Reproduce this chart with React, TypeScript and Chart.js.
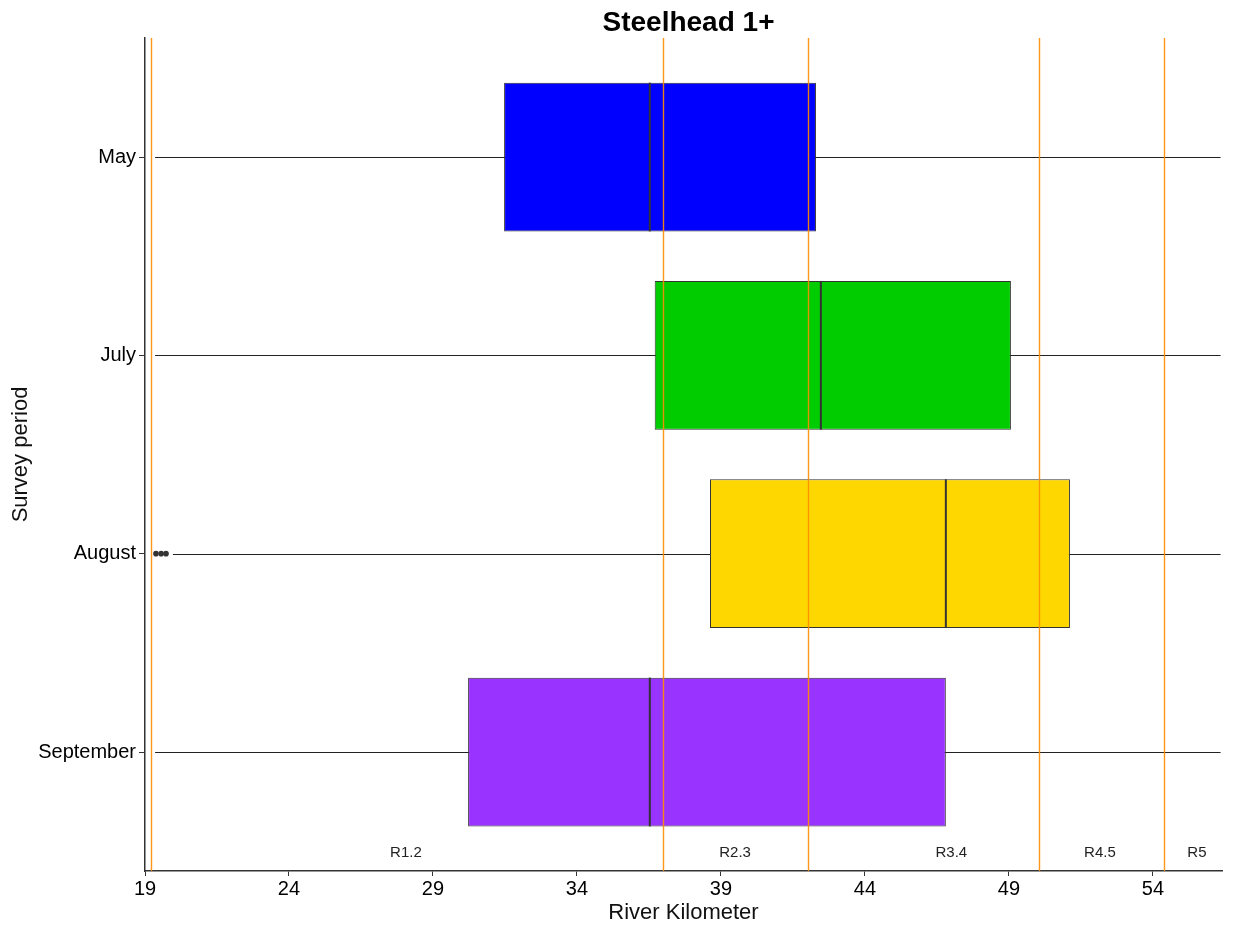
import React, { useEffect, useRef } from "react";
import { Chart, registerables } from "chart.js";

Chart.register(...registerables);

const categories = ["May", "July", "August", "September"];
const boxColors = ["#0000FF", "#00CC00", "#FFD700", "#9933FF"];
const q1 = [31.47, 36.7, 38.62, 30.22];
const q3 = [42.3, 49.07, 51.12, 46.81];
const medians = [36.53, 42.47, 46.81, 36.53];
const whiskerMin = [19.35, 19.35, 19.97, 19.35];
const whiskerMax = [56.35, 56.35, 56.35, 56.35];
const outlierCategory = [2, 2, 2];
const outlierValues = [19.38, 19.56, 19.73];
const reachBreaks = [19.2, 37.0, 42.02, 50.04, 54.38];
const reachLabels = ["R1.2", "R2.3", "R3.4", "R4.5", "R5"];
const reachLabelPos = [28.06, 39.49, 47.0, 52.16, 55.53];
const xTicks = [19, 24, 29, 34, 39, 44, 49, 54];
const titleText = "Steelhead 1+";

const FONT = "'Liberation Sans', Arial, sans-serif";

const boxPlugin = {
  id: "boxExtras",
  beforeDatasetsDraw(chart: any) {
    const { ctx, scales } = chart;
    const x = scales.x;
    const y = scales.y;
    ctx.save();
    ctx.strokeStyle = "#222222";
    ctx.lineWidth = 1.1;
    categories.forEach((_, i) => {
      const py = Math.round(y.getPixelForValue(i)) + 0.5;
      ctx.beginPath();
      ctx.moveTo(x.getPixelForValue(whiskerMin[i]), py);
      ctx.lineTo(x.getPixelForValue(whiskerMax[i]), py);
      ctx.stroke();
    });
    ctx.restore();
  },
  afterDatasetsDraw(chart: any) {
    const { ctx, scales, chartArea } = chart;
    const x = scales.x;
    const y = scales.y;
    const meta = chart.getDatasetMeta(0);
    ctx.save();
    // medians
    ctx.strokeStyle = "#333333";
    ctx.lineWidth = 2;
    categories.forEach((_, i) => {
      const bar = meta.data[i];
      const h = bar.height;
      const py = y.getPixelForValue(i);
      const px = x.getPixelForValue(medians[i]);
      ctx.beginPath();
      ctx.moveTo(px, py - h / 2);
      ctx.lineTo(px, py + h / 2);
      ctx.stroke();
    });
    // outliers
    ctx.fillStyle = "#333333";
    outlierValues.forEach((v, k) => {
      ctx.beginPath();
      ctx.arc(x.getPixelForValue(v), y.getPixelForValue(outlierCategory[k]), 2.8, 0, Math.PI * 2);
      ctx.fill();
    });
    // reach breaks
    ctx.strokeStyle = "rgba(255,140,0,0.9)";
    ctx.lineWidth = 1.4;
    reachBreaks.forEach((v) => {
      const px = Math.round(x.getPixelForValue(v)) + 0.5;
      ctx.beginPath();
      ctx.moveTo(px, chartArea.top);
      ctx.lineTo(px, chartArea.bottom);
      ctx.stroke();
    });
    // reach labels
    ctx.fillStyle = "#222222";
    ctx.font = `15px ${FONT}`;
    ctx.textAlign = "center";
    ctx.textBaseline = "middle";
    reachLabels.forEach((t, k) => {
      ctx.fillText(t, x.getPixelForValue(reachLabelPos[k]), chartArea.bottom - 18);
    });
    // title
    ctx.fillStyle = "#000000";
    ctx.font = `bold 28px ${FONT}`;
    ctx.fillText(titleText, (chartArea.left + chartArea.right) / 2 + 5, 23);
    ctx.restore();
  },
};

export default function App() {
  const canvasRef = useRef<HTMLCanvasElement | null>(null);

  useEffect(() => {
    document.body.style.margin = "0";
    const canvas = canvasRef.current;
    if (!canvas) return;
    const chart = new Chart(canvas, {
      type: "bar",
      data: {
        datasets: [
          {
            data: categories.map((_, i) => ({ x: [q1[i], q3[i]], y: i })) as any,
            backgroundColor: boxColors,
            borderColor: "#333333",
            borderWidth: 1,
            borderSkipped: false,
            barPercentage: 1,
            categoryPercentage: 0.75,
          },
        ],
      },
      options: {
        indexAxis: "y",
        responsive: false,
        animation: false,
        devicePixelRatio: 1,
        layout: { padding: { top: 38, right: 11, left: 0, bottom: 0 } },
        plugins: {
          legend: { display: false },
          tooltip: { enabled: false },
          title: { display: false },
        },
        scales: {
          x: {
            type: "linear",
            min: 19,
            max: 56.4,
            afterBuildTicks: (scale: any) => {
              scale.ticks = xTicks.map((v) => ({ value: v }));
            },
            afterFit: (scale: any) => {
              scale.height = 55;
            },
            grid: { drawOnChartArea: false, drawTicks: true, tickLength: 5, color: "#333333" },
            border: { display: true, color: "#333333", width: 1.5 },
            ticks: {
              color: "#000000",
              font: { family: FONT, size: 20 },
              padding: 1,
              maxRotation: 0,
              autoSkip: false,
            },
            title: {
              display: true,
              text: "River Kilometer",
              color: "#111111",
              font: { family: FONT, size: 22 },
              padding: { top: 2, bottom: 0 },
            },
          },
          y: {
            type: "linear",
            min: -0.6,
            max: 3.6,
            reverse: true,
            offset: false,
            afterBuildTicks: (scale: any) => {
              scale.ticks = categories.map((_, i) => ({ value: i }));
            },
            afterFit: (scale: any) => {
              scale.width = 145;
            },
            grid: { offset: false, drawOnChartArea: false, drawTicks: true, tickLength: 6, color: "#333333" },
            border: { display: true, color: "#333333", width: 1.5 },
            ticks: {
              color: "#000000",
              font: { family: FONT, size: 20 },
              padding: 3,
              autoSkip: false,
              callback: (v: any) => categories[Number(v)] ?? "",
            },
            title: {
              display: true,
              text: "Survey period",
              color: "#111111",
              font: { family: FONT, size: 22 },
              padding: { top: 8, bottom: 0 },
            },
          },
        },
      },
      plugins: [boxPlugin],
    });
    return () => chart.destroy();
  }, []);

  return (
    <div style={{ position: "absolute", left: 0, top: 0, width: 1233, height: 926, background: "#fff" }}>
      <canvas ref={canvasRef} width={1233} height={926} style={{ width: 1233, height: 926, display: "block" }} />
    </div>
  );
}
